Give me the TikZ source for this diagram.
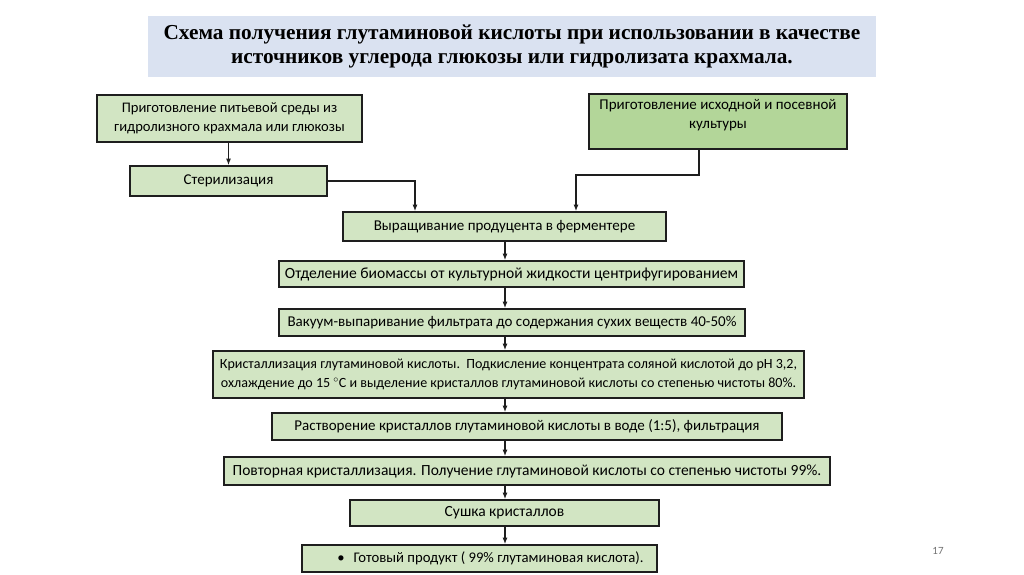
\documentclass[tikz,border=0pt]{standalone}
\usepackage{fontspec}
\usetikzlibrary{arrows.meta,calc}
\newfontfamily\carlito{Carlito}
\newfontfamily\ttlfont{Liberation Serif}
\definecolor{boxgreen}{HTML}{D2E5C3}
\definecolor{boxgreendark}{HTML}{B3D699}
\definecolor{titleblue}{HTML}{DAE2F1}
\definecolor{edgecol}{HTML}{1E1E1E}
\tikzset{
  stepbox/.style={draw=edgecol, line width=1.7pt, fill=boxgreen, inner sep=0pt, align=center,
    font=\carlito\fontsize{15}{19}\selectfont},
  fs/.style={font=\carlito\fontsize{#1}{19}\selectfont},
  arr/.style={draw=edgecol, line width=1.2pt, -{Latex[length=6.5pt,width=5pt]}},
}
\begin{document}
\begin{tikzpicture}[x=1pt,y=-1pt]
\useasboundingbox (0,0) rectangle (1024,574);
\fill[white] (0,0) rectangle (1024,574);
% title
\node[fill=titleblue, minimum width=728pt, minimum height=61pt, inner sep=0pt, align=center,
  font=\ttlfont\bfseries\fontsize{21.3}{24}\selectfont] (title) at (512,46.5)
  {Схема получения глутаминовой кислоты при использовании в качестве\\источников углерода глюкозы или гидролизата крахмала.};
% boxes
\node[stepbox, fs=14.6, minimum width=265pt, minimum height=47pt] (b1) at (229.5,118.5)
  {Приготовление питьевой среды из\\гидролизного крахмала или глюкозы};
\node[stepbox, minimum width=197pt, minimum height=30pt] (b2) at (228.5,181) {Стерилизация};
\node[stepbox, fill=boxgreendark, minimum width=258pt, minimum height=55pt] (b3) at (718,121.5) {};
\node[fs=15, align=center, anchor=north, inner sep=0pt] (b3t) at ($(b3.north)+(0,6.5)$)
  {Приготовление исходной и посевной\\культуры};
\node[stepbox, minimum width=323pt, minimum height=29pt] (b4) at (504.5,226.5) {Выращивание продуцента в ферментере};
\node[stepbox, fs=15.6, minimum width=465pt, minimum height=26pt] (b5) at (511.5,274) {Отделение биомассы от культурной жидкости центрифугированием};
\node[stepbox, minimum width=466pt, minimum height=27pt] (b6) at (512,322.5) {Вакуум-выпаривание фильтрата до содержания сухих веществ 40-50\%};
\node[stepbox, fs=14.05, minimum width=591pt, minimum height=47pt] (b7) at (508.5,374.5)
  {Кристаллизация глутаминовой кислоты.\ \ Подкисление концентрата соляной кислотой до pH 3,2,\\охлаждение до 15 $^{\circ}$C и выделение кристаллов глутаминовой кислоты со степенью чистоты 80\%.};
\node[stepbox, minimum width=510pt, minimum height=27pt] (b8) at (527,426.5) {Растворение кристаллов глутаминовой кислоты в воде (1:5), фильтрация};
\node[stepbox, fs=15.5, minimum width=606pt, minimum height=28pt] (b9) at (527,471) {Повторная кристаллизация. Получение глутаминовой кислоты со степенью чистоты 99\%.};
\node[stepbox, fs=15.5, minimum width=309pt, minimum height=26pt] (b10) at (504.5,513) {Сушка кристаллов};
\node[stepbox, fs=14.7, minimum width=355pt, minimum height=27pt] (b11) at (479.5,558.5) {\hspace{22pt}•\hspace{9pt}Готовый продукт ( 99\% глутаминовая кислота).};
% page number
\node[font=\carlito\fontsize{11}{13}\selectfont, text=black!55] (pg) at (938,551) {17};
% connectors
\coordinate (ax) at (505,0);
\coordinate (j1) at (415,0);
\coordinate (j2) at (699,175);
\coordinate (j3) at (576,175);
\draw[arr] (b1.south -| b2.north) -- (b2.north);
\draw[arr] (b2.east) -| (b4.north -| j1);
\draw[arr] (b3.south -| j2) -- (j2) -- (j3) -- (b4.north -| j3);
\draw[arr] (b4.south -| ax) -- (b5.north -| ax);
\draw[arr] (b5.south -| ax) -- (b6.north -| ax);
\draw[arr] (b6.south -| ax) -- (b7.north -| ax);
\draw[arr] (b7.south -| ax) -- (b8.north -| ax);
\draw[arr] (b8.south -| ax) -- (b9.north -| ax);
\draw[arr] (b9.south -| ax) -- (b10.north -| ax);
\draw[arr] (b10.south -| ax) -- (b11.north -| ax);
\end{tikzpicture}
\end{document}
